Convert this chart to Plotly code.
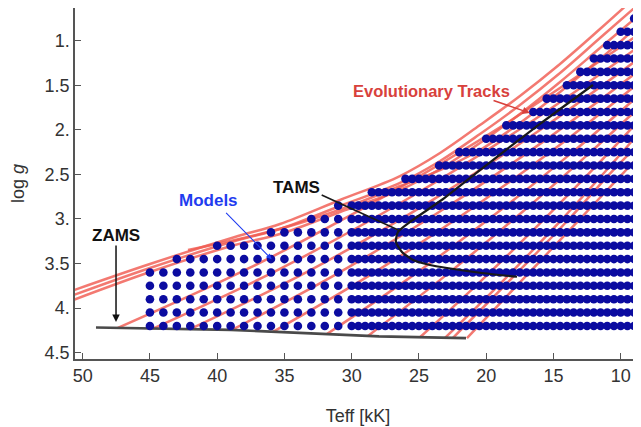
import plotly.graph_objects as go

# ---------------- data ----------------
# model grid: rows of log g and the hottest model Teff (kK) in each row
logg_rows = [0.75, 0.90, 1.05, 1.20, 1.35, 1.50, 1.65, 1.80, 1.95, 2.10, 2.25, 2.40,
             2.55, 2.70, 2.85, 3.00, 3.15, 3.30, 3.45, 3.60, 3.75, 3.90, 4.05, 4.20]
row_teff_max = [9, 10, 11, 12, 13, 14, 15.5, 16.5, 18.5, 20, 22, 23.5,
                26, 28.5, 31, 33, 36, 40, 43, 45, 45, 45, 45, 45]
teff_hot_cols = [45, 44, 43, 42, 41, 40, 39, 38, 37, 36, 35, 34, 33, 32, 31]
teff_cool_cols = [30, 29.5, 29, 28.5, 28, 27.5, 27, 26.5, 26, 25.5, 25, 24.5, 24, 23.5,
                  23, 22.5, 22, 21.5, 21, 20.5, 20, 19.5, 19, 18.5, 18, 17.5, 17, 16.5,
                  16, 15.5, 15, 14.5, 14, 13.5, 13, 12.5, 12, 11.5, 11, 10.5, 10, 9.5, 9]

# evolutionary tracks (Teff kK, log g)
trk_u1_T = [51.69, 45.0, 38.68, 35.33, 30.87, 26.41, 23.43, 20.46, 17.49, 14.51, 11.54, 9.31]
trk_u1_g = [3.853, 3.505, 3.202, 3.056, 2.787, 2.518, 2.260, 1.946, 1.620, 1.261, 0.869, 0.566]
trk_u2_T = [51.69, 45.0, 38.68, 35.33, 30.87, 26.41, 23.43, 20.46, 17.49, 14.51, 11.54, 8.56]
trk_u2_g = [3.909, 3.550, 3.247, 3.112, 2.854, 2.596, 2.350, 2.047, 1.721, 1.362, 0.970, 0.577]
trk_u3_T = [51.69, 45.0, 38.68, 35.33, 30.87, 26.41, 23.43, 20.46, 17.49, 14.51, 11.54, 8.19]
trk_u3_g = [3.965, 3.595, 3.292, 3.169, 2.922, 2.675, 2.439, 2.148, 1.822, 1.463, 1.082, 0.656]
trk_v_T = [42.17, 38.68, 34.59, 30.13, 26.41, 23.43, 20.46, 17.49, 14.51, 11.54, 8.19]
trk_v_g = [3.348, 3.236, 3.079, 2.854, 2.630, 2.451, 2.226, 1.923, 1.575, 1.205, 0.768]
trk_1_T = [47.38, 37.56, 27.90, 18.23, 8.19]
trk_1_g = [4.222, 3.547, 2.775, 1.900, 0.880]
trk_2_T = [44.77, 35.33, 25.67, 16.74, 8.19]
trk_2_g = [4.229, 3.560, 2.759, 1.917, 1.015]
trk_3_T = [42.02, 33.10, 24.18, 16.00, 8.19]
trk_3_g = [4.236, 3.576, 2.805, 2.002, 1.149]
trk_4_T = [38.90, 30.87, 22.69, 15.26, 8.19]
trk_4_g = [4.245, 3.596, 2.843, 2.079, 1.284]
trk_5_T = [35.85, 28.64, 21.20, 14.51, 8.19]
trk_5_g = [4.266, 3.630, 2.896, 2.167, 1.418]
trk_6_T = [31.84, 25.67, 18.97, 13.40, 8.19]
trk_6_g = [4.291, 3.658, 2.906, 2.228, 1.553]
trk_7_T = [28.79, 23.44, 17.49, 12.28, 8.19]
trk_7_g = [4.312, 3.686, 2.944, 2.255, 1.688]
trk_8_T = [24.92, 20.46, 16.00, 11.91, 8.19]
trk_8_g = [4.327, 3.705, 3.050, 2.419, 1.822]
trk_9_T = [23.06, 18.97, 14.51, 10.80, 8.19]
trk_9_g = [4.333, 3.728, 3.026, 2.408, 1.957]
trk_10_T = [22.47, 18.23, 13.77, 10.57, 8.19]
trk_10_g = [4.334, 3.687, 2.989, 2.454, 2.092]
trk_11_T = [21.43, 17.49, 13.40, 10.80, 8.19]
trk_11_g = [4.337, 3.711, 3.060, 2.643, 2.226]

# ZAMS and TAMS lines
zams_T = [49.01, 38.97, 27.97, 21.50]
zams_g = [4.217, 4.244, 4.317, 4.337]
tams_T = [12.06, 16.00, 20.46, 23.31, 25.67, 26.56, 26.71, 26.26, 25.44, 24.18, 22.91, 20.46, 17.71]
tams_g = [1.497, 1.934, 2.451, 2.787, 3.034, 3.146, 3.258, 3.370, 3.460, 3.516, 3.550, 3.603, 3.648]

x_ticks = [50, 45, 40, 35, 30, 25, 20, 15, 10]
y_ticks = [1, 1.5, 2, 2.5, 3, 3.5, 4, 4.5]
y_tick_text = ["1.", "1.5", "2.", "2.5", "3.", "3.5", "4.", "4.5"]

# ---------------- figure ----------------
fig = go.Figure()

tracks = [(trk_u1_T, trk_u1_g), (trk_u2_T, trk_u2_g), (trk_u3_T, trk_u3_g), (trk_v_T, trk_v_g),
          (trk_1_T, trk_1_g), (trk_2_T, trk_2_g), (trk_3_T, trk_3_g), (trk_4_T, trk_4_g),
          (trk_5_T, trk_5_g), (trk_6_T, trk_6_g), (trk_7_T, trk_7_g), (trk_8_T, trk_8_g),
          (trk_9_T, trk_9_g), (trk_10_T, trk_10_g), (trk_11_T, trk_11_g)]
for tT, tg in tracks:
    fig.add_trace(go.Scatter(x=tT, y=tg, mode="lines",
                             line=dict(color="rgba(240,92,82,0.82)", width=2.5, shape="spline", smoothing=1.0),
                             hoverinfo="skip", showlegend=False))

fig.add_trace(go.Scatter(x=zams_T, y=zams_g, mode="lines",
                         line=dict(color="#4a4a4a", width=2.6), hoverinfo="skip", showlegend=False))

gx, gy = [], []
for g, tmax in zip(logg_rows, row_teff_max):
    for t in teff_hot_cols + teff_cool_cols:
        if t <= tmax:
            gx.append(t)
            gy.append(g)
fig.add_trace(go.Scatter(x=gx, y=gy, mode="markers",
                         marker=dict(color="#0b0ba0", size=8.6, line=dict(width=0)),
                         hoverinfo="skip", showlegend=False))

fig.add_trace(go.Scatter(x=tams_T, y=tams_g, mode="lines",
                         line=dict(color="#1a1a1a", width=2.2, shape="spline", smoothing=0.6),
                         hoverinfo="skip", showlegend=False))

# TAMS pointer line
fig.add_shape(type="line", x0=32.23, y0=2.731, x1=26.54, y1=3.124, xref="x", yref="y",
              line=dict(color="#1a1a1a", width=1.6))

lab_font = "Liberation Sans, Arial, sans-serif"
fig.add_annotation(x=24.10, y=1.564, text="<b>Evolutionary Tracks</b>", showarrow=False,
                   font=dict(family=lab_font, size=16.5, color="#d8413c"))
fig.add_annotation(x=16.74, y=1.811, text="", showarrow=True, ax=-38, ay=-13,
                   arrowhead=2, arrowsize=1, arrowwidth=1.5, arrowcolor="#d8413c")
fig.add_annotation(x=40.61, y=2.798, text="<b>Models</b>", showarrow=False,
                   font=dict(family=lab_font, size=17, color="#1f3cf0"))
fig.add_annotation(x=35.95, y=3.452, text="", showarrow=True, ax=-47, ay=-48,
                   arrowhead=2, arrowsize=1, arrowwidth=1.1, arrowcolor="#1f3cf0")
fig.add_annotation(x=34.07, y=2.652, text="<b>TAMS</b>", showarrow=False,
                   font=dict(family=lab_font, size=17, color="#111"))
fig.add_annotation(x=47.52, y=3.180, text="<b>ZAMS</b>", showarrow=False,
                   font=dict(family=lab_font, size=17, color="#111"))
fig.add_annotation(x=47.52, y=4.156, text="", showarrow=True, ax=0, ay=-78,
                   arrowhead=2, arrowsize=1, arrowwidth=1.5, arrowcolor="#111")

# the page body adds an 8 px offset, so the figure is sized to fill the rest of the window
fig.update_layout(
    width=633, height=419,
    margin=dict(l=67, r=0, t=0, b=68, autoexpand=False),
    paper_bgcolor="white", plot_bgcolor="white",
    font=dict(family=lab_font, size=18, color="#333"),
    xaxis=dict(range=[50.57, 8.49], tickvals=x_ticks, ticks="inside", ticklen=6,
               tickwidth=1.2, tickcolor="#555", showline=True, linecolor="#555", linewidth=1.5,
               mirror=True, showgrid=False, zeroline=False, automargin=False,
               tickfont=dict(size=18, color="#333"),
               title=dict(text="Teff [kK]", font=dict(size=18, color="#333"), standoff=24)),
    yaxis=dict(range=[4.571, 0.633], tickvals=y_ticks, ticktext=y_tick_text, ticks="inside",
               ticklen=6, tickwidth=1.2, tickcolor="#555", showline=True, linecolor="#555",
               linewidth=1.5, showgrid=False, zeroline=False, automargin=False,
               tickfont=dict(size=18, color="#333"),
               title=dict(text="log <i>g</i>", font=dict(size=18, color="#333"), standoff=17)),
)

fig.write_html("out.html")
